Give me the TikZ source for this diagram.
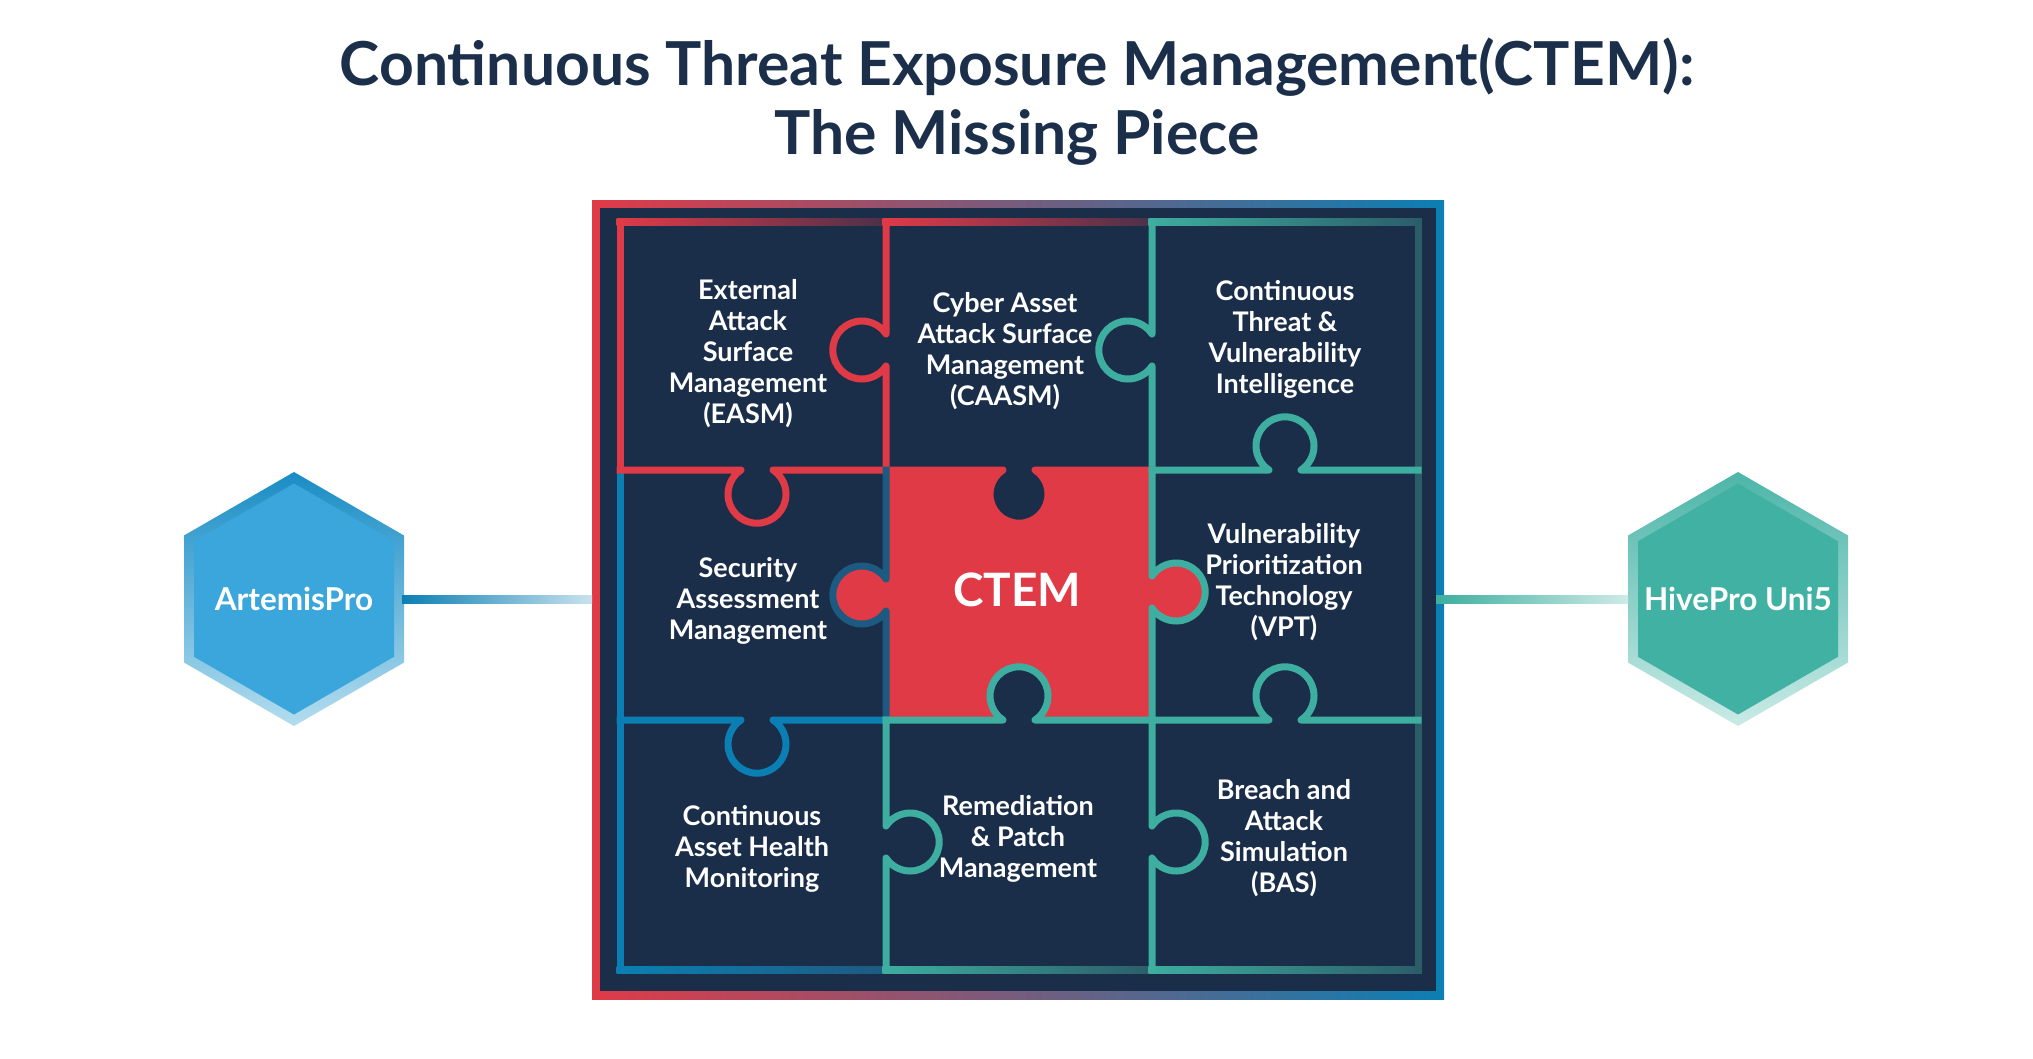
\documentclass[tikz,border=0pt]{standalone}
\usepackage{fontspec}
\setmainfont{Lato}
\usetikzlibrary{calc}
\definecolor{cnavy}{HTML}{1A2E4A}
\definecolor{cred}{HTML}{E03A47}
\definecolor{cblue}{HTML}{0B7FB3}
\definecolor{cteal}{HTML}{3DAE9F}
\definecolor{cdteal}{HTML}{2B5D68}
\definecolor{cdblue}{HTML}{1D5A82}
\definecolor{ctitle}{HTML}{1B2F4B}
\definecolor{hexblue}{HTML}{3BA6DC}
\definecolor{hexbluetop}{HTML}{1A8DC5}
\definecolor{hexbluebot}{HTML}{B3DDEF}
\definecolor{hexteal}{HTML}{41B1A3}
\definecolor{hextealtop}{HTML}{4DB5A9}
\definecolor{hextealbot}{HTML}{C9EAE6}
\tikzset{
  kd/.style 2 args={insert path={-- ({#1-16},{#2}) .. controls ({#1-24.11},{#2+5.37}) and ({#1-29},{#2+14.47}) .. ({#1-29},{#2+24.2}) .. controls ({#1-29},{#2+40.22}) and ({#1-16.02},{#2+53.2}) .. ({#1},{#2+53.2}) .. controls ({#1+16.02},{#2+53.2}) and ({#1+29},{#2+40.22}) .. ({#1+29},{#2+24.2}) .. controls ({#1+29},{#2+14.47}) and ({#1+24.11},{#2+5.37}) .. ({#1+16},{#2})}},
  ku/.style 2 args={insert path={-- ({#1-16},{#2}) .. controls ({#1-24.11},{#2-5.37}) and ({#1-29},{#2-14.47}) .. ({#1-29},{#2-24.2}) .. controls ({#1-29},{#2-40.22}) and ({#1-16.02},{#2-53.2}) .. ({#1},{#2-53.2}) .. controls ({#1+16.02},{#2-53.2}) and ({#1+29},{#2-40.22}) .. ({#1+29},{#2-24.2}) .. controls ({#1+29},{#2-14.47}) and ({#1+24.11},{#2-5.37}) .. ({#1+16},{#2})}},
  kr/.style 2 args={insert path={-- ({#1},{#2-16}) .. controls ({#1+5.37},{#2-24.11}) and ({#1+14.47},{#2-29}) .. ({#1+24.2},{#2-29}) .. controls ({#1+40.22},{#2-29}) and ({#1+53.2},{#2-16.02}) .. ({#1+53.2},{#2}) .. controls ({#1+53.2},{#2+16.02}) and ({#1+40.22},{#2+29}) .. ({#1+24.2},{#2+29}) .. controls ({#1+14.47},{#2+29}) and ({#1+5.37},{#2+24.11}) .. ({#1},{#2+16})}},
  kl/.style 2 args={insert path={-- ({#1},{#2-16}) .. controls ({#1-5.37},{#2-24.11}) and ({#1-14.47},{#2-29}) .. ({#1-24.2},{#2-29}) .. controls ({#1-40.22},{#2-29}) and ({#1-53.2},{#2-16.02}) .. ({#1-53.2},{#2}) .. controls ({#1-53.2},{#2+16.02}) and ({#1-40.22},{#2+29}) .. ({#1-24.2},{#2+29}) .. controls ({#1-14.47},{#2+29}) and ({#1-5.37},{#2+24.11}) .. ({#1},{#2+16})}},
  pline/.style={line width=7pt, line cap=rect, line join=round},
  ptext/.style={text=white, font=\fontsize{27}{31}\selectfont\bfseries, align=center, inner sep=0pt},
  hextext/.style={text=white, font=\fontsize{31.5}{36}\selectfont\bfseries, inner sep=0pt},
}
\begin{document}
\begin{tikzpicture}[x=1pt,y=-1pt]
\useasboundingbox (0,0) rectangle (2033,1058);
\fill[white] (0,0) rectangle (2033,1058);

% title
\node[text=ctitle, font=\fontsize{60.6}{69}\selectfont\bfseries, align=center, inner sep=0pt] (title) at (1017,102)
  {Continuous Threat Exposure Management(CTEM):\\The Missing Piece};

% frame
\coordinate (frW) at (592,599);
\coordinate (frE) at (1436,599);
\shade[left color=cred, right color=cblue] (592,200) rectangle (1444,999);
\fill[cnavy] (600,208) rectangle (1436,991);

% CTEM fills
\fill[cred] (886,470) rectangle (1152,720);
\fill[cred] (886,575) [kl={886}{595}] -- (886,615) -- cycle;
\fill[cred] (1152,572) [kr={1152}{592}] -- (1152,612) -- cycle;
\fill[cnavy] (990,470) [kd={1019}{470}] -- (1048,470) -- cycle;
\fill[cnavy] (990,720) [ku={1019}{720}] -- (1048,720) -- cycle;

% top strips
\shade[left color=cred, middle color=cred, right color=cred!25!cnavy] (616.5,218.5) rectangle (886,225.5);
\shade[left color=cred, middle color=cred, right color=cred!25!cnavy] (882.5,218.5) rectangle (1152,225.5);
\shade[left color=cteal, middle color=cteal, right color=cdteal] (1148.5,218.5) rectangle (1421.5,225.5);
% bottom strips
\shade[left color=cblue, middle color=cblue, right color=cdblue] (616.5,966.5) rectangle (886,973.5);
\shade[left color=cteal, middle color=cteal, right color=cdteal] (882.5,966.5) rectangle (1152,973.5);
\shade[left color=cteal, middle color=cteal, right color=cdteal] (1148.5,966.5) rectangle (1421.5,973.5);

% outer sides
\draw[pline, cred] (620,222) -- (620,470);
\draw[pline, cblue] (620,470) -- (620,970);
\draw[pline, cdteal] (1418,222) -- (1418,970);

% row 1 verticals
\draw[pline, cred] (886,222) [kl={886}{350}] -- (886,470);
\draw[pline, cteal] (1152,222) [kl={1152}{350}] -- (1152,470);
% divider y=470
\draw[pline, cred] (620,470) [kd={757}{470}] -- (886,470);
\draw[pline, cred] (886,470) [kd={1019}{470}] -- (1152,470);
\draw[pline, cteal] (1152,470) [ku={1285}{470}] -- (1418,470);
% row 2 verticals
\draw[pline, cdblue] (886,470) [kl={886}{595}] -- (886,720);
\draw[pline, cteal] (1152,470) [kr={1152}{592}] -- (1152,720);
% divider y=720
\draw[pline, cblue] (620,720) [kd={757}{720}] -- (886,720);
\draw[pline, cteal] (886,720) [ku={1019}{720}] -- (1152,720);
\draw[pline, cteal] (1152,720) [ku={1285}{720}] -- (1418,720);
% row 3 verticals
\draw[pline, cteal] (886,720) [kr={886}{842}] -- (886,970);
\draw[pline, cteal] (1152,720) [kr={1152}{842}] -- (1152,970);

% texts
\node[ptext] (easm) at (748,354) {External\\Attack\\Surface\\Management\\(EASM)};
\node[ptext] (caasm) at (1005,351) {Cyber Asset\\Attack Surface\\Management\\(CAASM)};
\node[ptext] (ctvi) at (1285,339) {Continuous\\Threat \&\\Vulnerability\\Intelligence};
\node[ptext] (sam) at (748,601) {Security\\Assessment\\Management};
\node[text=white, font=\fontsize{46}{54}\selectfont\bfseries, inner sep=0pt] (ctem) at (1017,590) {CTEM};
\node[ptext] (vpt) at (1284,582) {Vulnerability\\Prioritization\\Technology\\(VPT)};
\node[ptext] (cahm) at (752,849) {Continuous\\Asset Health\\Monitoring};
\node[ptext] (remed) at (1018,839) {Remediation\\\& Patch\\Management};
\node[ptext] (bas) at (1284,838) {Breach and\\Attack\\Simulation\\(BAS)};

% hexagons
\shade[top color=hexbluetop, bottom color=hexbluebot] (294,472) -- (404,535.5) -- (404,662.5) -- (294,726) -- (184,662.5) -- (184,535.5) -- cycle;
\fill[hexblue] (294,483.5) -- (394,541.25) -- (394,656.75) -- (294,714.5) -- (194,656.75) -- (194,541.25) -- cycle;
\node[hextext] (artemis) at (294,599) {ArtemisPro};
\coordinate (artE) at (402,599);

\shade[top color=hextealtop, bottom color=hextealbot] (1738,472) -- (1848,535.5) -- (1848,662.5) -- (1738,726) -- (1628,662.5) -- (1628,535.5) -- cycle;
\fill[hexteal] (1738,483.5) -- (1838,541.25) -- (1838,656.75) -- (1738,714.5) -- (1638,656.75) -- (1638,541.25) -- cycle;
\node[hextext] (hivepro) at (1738,599) {HivePro Uni5};
\coordinate (hiveW) at (1628,599);

% connectors
\shade[left color=cblue, right color=cblue!22] ($(artE)+(0,-4)$) rectangle ($(frW)+(0,4)$);
\shade[left color=cteal, right color=cteal!25] ($(frE)+(0,-4)$) rectangle ($(hiveW)+(0,4)$);
\end{tikzpicture}
\end{document}
